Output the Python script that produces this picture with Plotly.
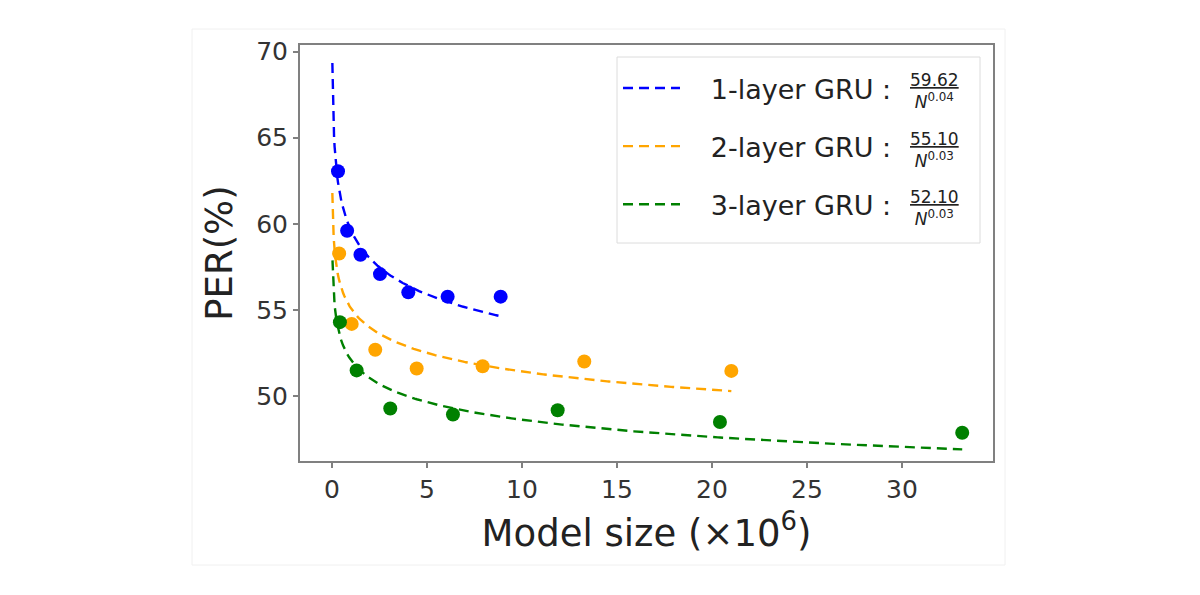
import numpy as np
import plotly.graph_objects as go

# ---- data ----
size_1layer = [0.32, 0.80, 1.50, 2.53, 4.02, 6.09, 8.88]
per_1layer = [63.05, 59.60, 58.20, 57.08, 56.02, 55.77, 55.77]

size_2layer = [0.38, 1.04, 2.28, 4.46, 7.93, 13.28, 21.02]
per_2layer = [58.28, 54.19, 52.69, 51.60, 51.73, 52.01, 51.46]

size_3layer = [0.42, 1.30, 3.07, 6.37, 11.88, 20.42, 33.17]
per_3layer = [54.29, 51.49, 49.28, 48.93, 49.18, 48.49, 47.87]

# power-law fit coefficients shown in the legend: a / N^b
fit_a = [59.62, 55.10, 52.10]
fit_b = [0.04, 0.03, 0.03]
fit_a_txt = ["59.62", "55.10", "52.10"]
fit_b_txt = ["0.04", "0.03", "0.03"]
fit_start = [0.023, 0.022, 0.03]

series_names = ["1-layer GRU :", "2-layer GRU :", "3-layer GRU :"]
colors = ["#0000ff", "#ffa500", "#008000"]

x_ticks = [0, 5, 10, 15, 20, 25, 30]
y_ticks = [50, 55, 60, 65, 70]

sizes = [size_1layer, size_2layer, size_3layer]
pers = [per_1layer, per_2layer, per_3layer]

FONT = "DejaVu Sans"
fig = go.Figure()

for i in range(3):
    xs = np.linspace(fit_start[i], max(sizes[i]), 300)
    ys = fit_a[i] / xs ** fit_b[i]
    fig.add_trace(go.Scatter(
        x=xs, y=ys, mode="lines",
        line=dict(color=colors[i], width=2.4, dash="10px,6px"),
        name="\u00a0\u00a0\u00a0" + series_names[i],
        legendgroup=f"g{i}", showlegend=True, hoverinfo="skip"))
for i in range(3):
    fig.add_trace(go.Scatter(
        x=sizes[i], y=pers[i], mode="markers",
        marker=dict(color=colors[i], size=14),
        showlegend=False, legendgroup=f"g{i}"))

# page offset of the plot div (body margin)
OFF = 8
W, H = 1200, 595
# plot area in reference page pixels
L, R, T, B = 300, 993, 45, 461
pw, ph = R - L, B - T

def px(xp):
    return (xp - L) / pw

def py(yp):
    return (B - yp) / ph

frac_y = [91, 150, 208]
annotations = []
for i in range(3):
    annotations.append(dict(
        x=px(934), y=py(frac_y[i]), xref="paper", yref="paper",
        text=f"<u>{fit_a_txt[i]}</u><br><i>N</i><sup>{fit_b_txt[i]}</sup>",
        showarrow=False, font=dict(family=FONT, size=17, color="#222"),
        xanchor="center", yanchor="middle", align="center"))

shapes = [
    dict(type="rect", xref="paper", yref="paper",
         x0=px(192), x1=px(1005), y0=py(29), y1=py(565),
         line=dict(color="#f0f0f0", width=1), layer="below"),
    dict(type="rect", xref="paper", yref="paper",
         x0=px(617), x1=px(980), y0=py(57), y1=py(243),
         line=dict(color="#dcdcdc", width=1), fillcolor="white", layer="below"),
]

fig.update_layout(
    width=W, height=H,
    margin=dict(l=L - OFF, r=W - R + OFF, t=T - OFF, b=H - B + OFF),
    paper_bgcolor="white", plot_bgcolor="white",
    showlegend=True,
    legend=dict(
        x=px(618), y=py(64), xanchor="left", yanchor="top",
        bgcolor="rgba(0,0,0,0)", borderwidth=0,
        font=dict(family=FONT, size=27, color="#222"),
        itemwidth=57, tracegroupgap=20, traceorder="grouped"),
    annotations=annotations,
    shapes=shapes,
    xaxis=dict(
        range=[-1.68, 34.79], tickvals=x_ticks,
        showgrid=False, zeroline=False,
        showline=True, mirror=True, linecolor="#808080", linewidth=2,
        ticks="outside", ticklen=5, tickcolor="#808080", tickwidth=1.5,
        tickfont=dict(family=FONT, size=25, color="#333"),
        title=dict(text="Model size (×10<sup>6</sup>)",
                   font=dict(family=FONT, size=37, color="#222"), standoff=17)),
    yaxis=dict(
        range=[46.23, 70.38], tickvals=y_ticks,
        showgrid=False, zeroline=False,
        showline=True, mirror=True, linecolor="#808080", linewidth=2,
        ticks="outside", ticklen=5, tickcolor="#808080", tickwidth=1.5,
        tickfont=dict(family=FONT, size=25, color="#333"),
        title=dict(text="PER(%)",
                   font=dict(family=FONT, size=37, color="#222"), standoff=12)),
)

fig.write_html("out.html")
